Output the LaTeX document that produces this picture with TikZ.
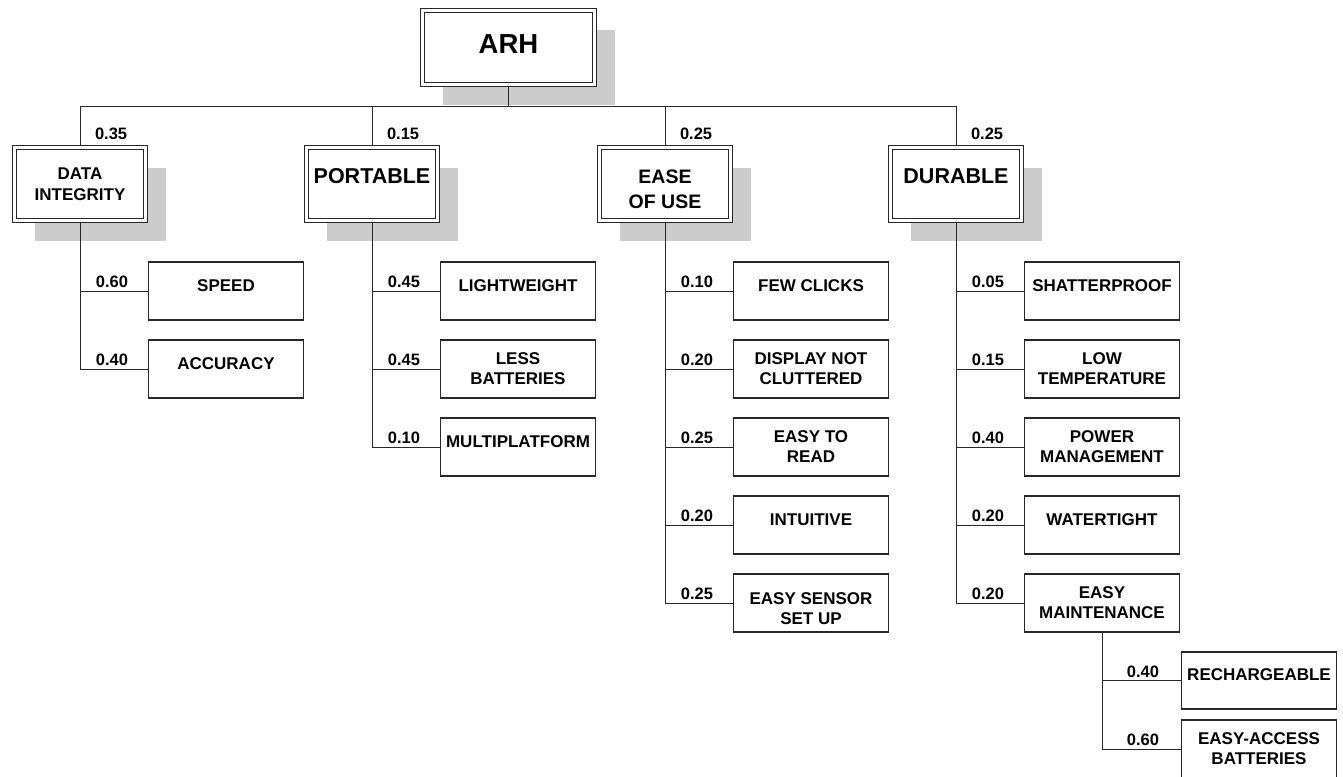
\documentclass[tikz,border=0pt]{standalone}
\usepackage{fontspec}
\setmainfont{Liberation Sans}
\definecolor{arhline}{RGB}{40,40,40}
\definecolor{arhshade}{RGB}{204,204,204}
\usetikzlibrary{positioning, shadows}

\begin{document}
\begin{tikzpicture}[
    x=1pt, y=-1pt,
    every node/.style={font=\bfseries},
    goal/.style={draw=arhline, line width=1.1pt, double=white, double distance=2.6pt,
                 fill=white, outer sep=2.5pt, align=center,
                 drop shadow={shadow xshift=20pt, shadow yshift=-20pt, fill=arhshade, opacity=1}},
    crit/.style={goal, minimum width=131pt, minimum height=73pt},
    leaf/.style={draw=arhline, line width=1.1pt, fill=white, align=center, inner xsep=2pt,
                 minimum width=155pt, minimum height=58pt, font=\bfseries\fontsize{17}{20}\selectfont},
    oneline/.style={text depth=11pt},
    weight/.style={inner sep=0pt, outer sep=0pt, font=\bfseries\fontsize{16.5}{20}\selectfont},
    link/.style={draw=arhline, line width=1pt}
]
\useasboundingbox (0,0) rectangle (1343,776);

\node[goal, minimum width=172pt, minimum height=74pt, text depth=6pt,
      font=\bfseries\fontsize{27.5}{33}\selectfont] (arh) at (508.5,47.5) {ARH};

\node[crit, font=\bfseries\fontsize{17}{20.5}\selectfont] (di) at (80,184) {DATA\\INTEGRITY};
\node[crit, text depth=16pt, font=\bfseries\fontsize{21.5}{26}\selectfont] (port) at (372,184) {PORTABLE};
\node[crit, text height=49.5pt, text depth=0pt, font=\bfseries\fontsize{19.5}{25.5}\selectfont] (ease) at (665,184) {EASE\\OF USE};
\node[crit, text depth=16pt, font=\bfseries\fontsize{21.5}{26}\selectfont] (dur) at (956,184) {DURABLE};

\node[leaf, oneline] (sp) at (226,291) {SPEED};
\node[leaf, oneline] (acc) at (226,369) {ACCURACY};

\node[leaf, oneline] (lw) at (518,291) {LIGHTWEIGHT};
\node[leaf] (lb) at (518,369) {LESS\\BATTERIES};
\node[leaf, oneline] (mp) at (518,447) {MULTIPLATFORM};

\node[leaf, oneline] (fc) at (811,291) {FEW CLICKS};
\node[leaf] (dnc) at (811,369) {DISPLAY NOT\\CLUTTERED};
\node[leaf] (etr) at (811,447) {EASY TO\\READ};
\node[leaf, oneline] (int) at (811,525) {INTUITIVE};
\node[leaf, text height=42pt, text depth=0pt] (ess) at (811,603) {EASY SENSOR\\SET UP};

\node[leaf, oneline] (sh) at (1102,291) {SHATTERPROOF};
\node[leaf] (lt) at (1102,369) {LOW\\TEMPERATURE};
\node[leaf] (pm) at (1102,447) {POWER\\MANAGEMENT};
\node[leaf, oneline] (wt) at (1102,525) {WATERTIGHT};
\node[leaf] (em) at (1102,603) {EASY\\MAINTENANCE};

\node[leaf, oneline, minimum height=57pt] (rc) at (1259,680.5) {RECHARGEABLE};
\node[leaf] (eab) at (1259,749) {EASY-ACCESS\\BATTERIES};

% tree lines
\draw[link] (arh.south) -- ++(0,19) coordinate (bus);
\draw[link] (di.north) |- (bus);
\draw[link] (port.north) |- (bus);
\draw[link] (ease.north) |- (bus);
\draw[link] (dur.north) |- (bus);

\draw[link] (di.south) |- (sp.west);
\draw[link] (di.south) |- (acc.west);
\draw[link] (port.south) |- (lw.west);
\draw[link] (port.south) |- (lb.west);
\draw[link] (port.south) |- (mp.west);
\draw[link] (ease.south) |- (fc.west);
\draw[link] (ease.south) |- (dnc.west);
\draw[link] (ease.south) |- (etr.west);
\draw[link] (ease.south) |- (int.west);
\draw[link] (ease.south) |- (ess.west);
\draw[link] (dur.south) |- (sh.west);
\draw[link] (dur.south) |- (lt.west);
\draw[link] (dur.south) |- (pm.west);
\draw[link] (dur.south) |- (wt.west);
\draw[link] (dur.south) |- (em.west);
\draw[link] (em.south) |- (rc.west);
\draw[link] (em.south) |- (eab.west);

% weights
\node[weight, above right=5pt and 15pt of di.north] (w-di) {0.35};
\node[weight, above right=5pt and 15pt of port.north] (w-port) {0.15};
\node[weight, above right=5pt and 15pt of ease.north] (w-ease) {0.25};
\node[weight, above right=5pt and 15pt of dur.north] (w-dur) {0.25};

\node[weight, above left=3pt and 20pt of sp.west] (w-sp) {0.60};
\node[weight, above left=3pt and 20pt of acc.west] (w-acc) {0.40};
\node[weight, above left=3pt and 20pt of lw.west] (w-lw) {0.45};
\node[weight, above left=3pt and 20pt of lb.west] (w-lb) {0.45};
\node[weight, above left=3pt and 20pt of mp.west] (w-mp) {0.10};
\node[weight, above left=3pt and 20pt of fc.west] (w-fc) {0.10};
\node[weight, above left=3pt and 20pt of dnc.west] (w-dnc) {0.20};
\node[weight, above left=3pt and 20pt of etr.west] (w-etr) {0.25};
\node[weight, above left=3pt and 20pt of int.west] (w-int) {0.20};
\node[weight, above left=3pt and 20pt of ess.west] (w-ess) {0.25};
\node[weight, above left=3pt and 20pt of sh.west] (w-sh) {0.05};
\node[weight, above left=3pt and 20pt of lt.west] (w-lt) {0.15};
\node[weight, above left=3pt and 20pt of pm.west] (w-pm) {0.40};
\node[weight, above left=3pt and 20pt of wt.west] (w-wt) {0.20};
\node[weight, above left=3pt and 20pt of em.west] (w-em) {0.20};
\node[weight, above left=3pt and 22pt of rc.west] (w-rc) {0.40};
\node[weight, above left=3pt and 22pt of eab.west] (w-eab) {0.60};
\end{tikzpicture}
\end{document}
